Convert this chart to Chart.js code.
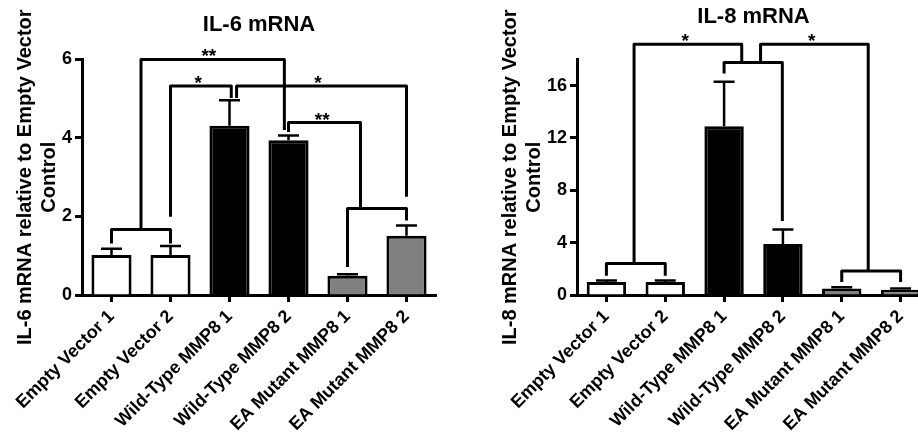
<!DOCTYPE html>
<html>
<head>
<meta charset="utf-8">
<title>IL-6 / IL-8 mRNA</title>
<script src="https://cdn.jsdelivr.net/npm/chart.js@4.4.1/dist/chart.umd.min.js"></script>
<style>
  html, body { margin: 0; padding: 0; background: #fff; }
  body { width: 918px; height: 434px; overflow: hidden; position: relative; }
  canvas { position: absolute; top: 0; }
  #il6 { left: 0; }
  #il8 { left: 460px; }
</style>
</head>
<body>
<canvas id="il6" width="460" height="434"></canvas>
<canvas id="il8" width="480" height="434"></canvas>
<script>
const groups = ['Empty Vector 1', 'Empty Vector 2', 'Wild-Type MMP8 1', 'Wild-Type MMP8 2', 'EA Mutant MMP8 1', 'EA Mutant MMP8 2'];
const barColors = ['#ffffff', '#ffffff', '#000000', '#000000', '#808080', '#808080'];

const il6Mean = [1.02, 1.02, 4.31, 3.94, 0.49, 1.51];
const il6Upper = [1.18, 1.25, 4.96, 4.06, 0.53, 1.77];
const il6Ticks = [0, 2, 4, 6];

const il8Mean = [1.0, 1.0, 12.9, 3.9, 0.5, 0.4];
const il8Upper = [1.1, 1.1, 16.3, 5.0, 0.6, 0.5];
const il8Ticks = [0, 4, 8, 12, 16];

// brackets: [fromIndex, fromBottom, toIndex, toBottom, top, starIndex, stars]
const il6Brackets = [
  [0, 1.31, 1, 1.31, 1.67],
  [0.5, 1.67, 2.93, 4.2, 6.0, 1.65, '**'],
  [1, 1.99, 2.03, 5.02, 5.32, 1.47, '*'],
  [2.12, 5.02, 5, 2.5, 5.32, 3.5, '*'],
  [3.0, 4.15, 4.22, 2.2, 4.39, 3.57, '**'],
  [4, 0.71, 5, 1.9, 2.2]
];
const il8Brackets = [
  [0, 1.48, 1, 1.48, 2.4],
  [0.47, 2.4, 2.3, 17.76, 19.15, 1.34, '*'],
  [2.0, 16.93, 2.99, 5.66, 17.76],
  [2.62, 17.76, 4.45, 1.84, 19.15, 3.49, '*'],
  [4, 1.0, 5, 1.0, 1.84]
];

const FONT = 'Arial, "Liberation Sans", sans-serif';

// error whiskers (upper only) and significance brackets
const sigPlugin = {
  id: 'sig',
  afterDatasetsDraw(chart, args, opts) {
    const ctx = chart.ctx;
    const xs = chart.scales.x, ys = chart.scales.y;
    const meta = chart.getDatasetMeta(0);
    ctx.save();
    ctx.strokeStyle = '#000';
    ctx.lineWidth = 2.5;
    meta.data.forEach(function (bar, i) {
      const top = ys.getPixelForValue(opts.upper[i]);
      ctx.beginPath();
      ctx.moveTo(bar.x, bar.y);
      ctx.lineTo(bar.x, top);
      ctx.moveTo(bar.x - 10.5, top);
      ctx.lineTo(bar.x + 10.5, top);
      ctx.stroke();
    });
    ctx.lineWidth = 3;
    ctx.lineJoin = 'round';
    ctx.fillStyle = '#000';
    ctx.font = 'bold 19px ' + FONT;
    ctx.textAlign = 'center';
    ctx.textBaseline = 'alphabetic';
    opts.brackets.forEach(function (b) {
      const x1 = xs.getPixelForValue(b[0]), x2 = xs.getPixelForValue(b[2]);
      const top = ys.getPixelForValue(b[4]);
      ctx.beginPath();
      ctx.moveTo(x1, ys.getPixelForValue(b[1]));
      ctx.lineTo(x1, top);
      ctx.lineTo(x2, top);
      ctx.lineTo(x2, ys.getPixelForValue(b[3]));
      ctx.stroke();
      if (b[6]) {
        ctx.fillText(b[6], xs.getPixelForValue(b[5]), top + 3);
      }
    });
    ctx.restore();
  }
};

function makeChart(id, title, mean, upper, ticks, max, brackets, box) {
  return new Chart(document.getElementById(id), {
    type: 'bar',
    data: {
      labels: groups,
      datasets: [{
        data: mean,
        backgroundColor: barColors,
        borderColor: '#000',
        borderWidth: 3,
        barPercentage: 1,
        categoryPercentage: box.bar
      }]
    },
    plugins: [sigPlugin],
    options: {
      responsive: false,
      animation: false,
      layout: { padding: { left: 0, right: box.right, top: 0, bottom: 0 } },
      plugins: {
        legend: { display: false },
        tooltip: { enabled: false },
        title: {
          display: true,
          text: title,
          fullSize: false,
          color: '#000',
          font: { family: FONT, size: 22, weight: 'bold' },
          padding: { top: box.titleTop, bottom: box.titleBottom }
        },
        sig: { upper: upper, brackets: brackets }
      },
      scales: {
        x: {
          afterFit: function (s) { s.height = 139; },
          grid: { offset: false, drawOnChartArea: false, tickLength: 7, tickWidth: 3, tickColor: '#000' },
          border: { color: '#000', width: 3 },
          ticks: {
            color: '#000', maxRotation: 45, minRotation: 45, padding: 4, autoSkip: false,
            font: { family: FONT, size: 18, weight: 'bold' }
          }
        },
        y: {
          min: 0,
          max: max,
          afterFit: function (s) { s.width = box.axis; },
          afterBuildTicks: function (s) { s.ticks = ticks.map(function (v) { return { value: v }; }); },
          grid: { drawOnChartArea: false, tickLength: 7, tickWidth: 3, tickColor: '#000' },
          border: { color: '#000', width: 3 },
          ticks: { color: '#000', padding: 3, font: { family: FONT, size: 18, weight: 'bold' } },
          title: {
            display: true,
            text: [title.split(' ')[0] + ' mRNA relative to Empty Vector', 'Control'],
            color: '#000',
            padding: { top: box.yTitle, bottom: 0 },
            font: { family: FONT, size: 20, weight: 'bold' }
          }
        }
      }
    }
  });
}

makeChart('il6', 'IL-6 mRNA', il6Mean, il6Upper, il6Ticks, 6, il6Brackets,
  { right: 24, axis: 82, bar: 0.68, titleTop: 12, titleBottom: 21, yTitle: 13 });
makeChart('il8', 'IL-8 mRNA', il8Mean, il8Upper, il8Ticks, 18, il8Brackets,
  { right: 10, axis: 117, bar: 0.67, titleTop: 4, titleBottom: 29, yTitle: 38 });
</script>
</body>
</html>
